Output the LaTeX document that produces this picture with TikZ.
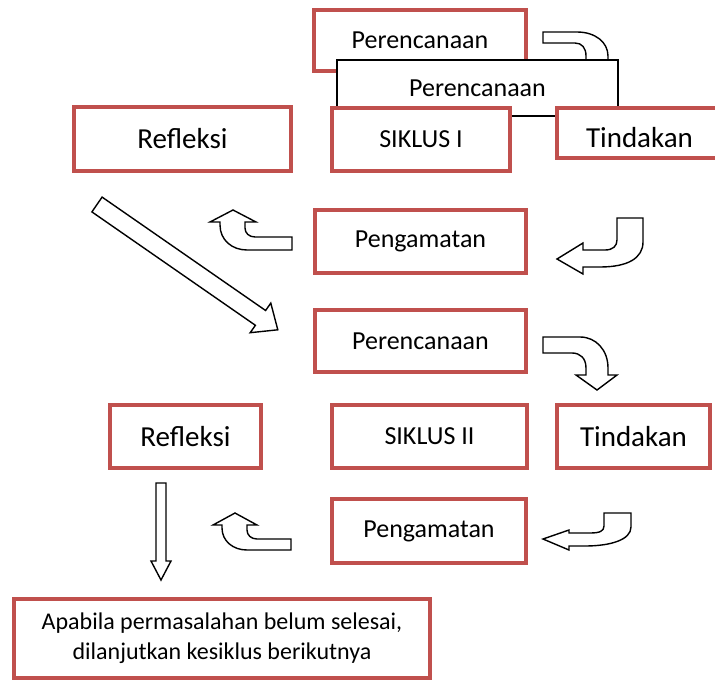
\documentclass[tikz,border=0pt]{standalone}
\usepackage{fontspec}
\setmainfont{Carlito}
\usepackage{tikz}
\definecolor{clrR}{RGB}{192,80,77}
\tikzset{
  stepbox/.style={rectangle,draw=clrR,line width=4.5pt,fill=white,inner sep=0pt,
    font=\fontsize{26}{31}\selectfont},
  stepbig/.style={stepbox,font=\fontsize{29}{34}\selectfont},
  plainbox/.style={rectangle,draw=black,line width=1.2pt,fill=white,inner sep=0pt,
    font=\fontsize{26}{31}\selectfont},
  notebox/.style={stepbox,align=center,font=\fontsize{24}{30}\selectfont},
  blockarrow/.style={draw=black,line width=1.4pt,fill=white,line join=miter}
}
\begin{document}
\begin{tikzpicture}[x=1pt,y=-1pt]
  \useasboundingbox (0,0) rectangle (715,680);
  \draw[blockarrow] (543,32) -- (577,32) .. controls (595,32) and (608,42) .. (608,56)
    -- (608,72) -- (586,72) -- (586,56) .. controls (586,48) and (582,43) .. (575,43)
    -- (543,43) -- cycle;
  \node[stepbox,minimum width=212pt,minimum height=61pt] (plan1) at (420,40.5) {Perencanaan};
  \node[plainbox,minimum width=281pt,minimum height=56pt] (plan1b) at (477.5,88) {Perencanaan};
  \node[stepbig,minimum width=217pt,minimum height=64pt] (refl1) at (182.5,139) {Refleksi};
  \node[stepbox,minimum width=178pt,minimum height=63pt] (cyc1) at (421,139.5) {SIKLUS I};
  \node[stepbig,minimum width=165pt,minimum height=50pt,text height=28pt,text depth=0pt]
    (act1) at (639.5,133) {Tindakan};
  \node[stepbox,minimum width=211pt,minimum height=63pt] (obs1) at (420.5,241.5) {Pengamatan};
  \node[stepbox,minimum width=211pt,minimum height=62pt] (plan2) at (420.5,341) {Perencanaan};
  \node[stepbig,minimum width=151pt,minimum height=63pt] (refl2) at (185.5,436.5) {Refleksi};
  \node[stepbox,minimum width=195pt,minimum height=63pt] (cyc2) at (429.5,436.5) {SIKLUS II};
  \node[stepbig,minimum width=153pt,minimum height=63pt] (act2) at (633.5,436.5) {Tindakan};
  \node[stepbox,minimum width=194pt,minimum height=64pt] (obs2) at (429,531) {Pengamatan};
  \node[notebox,minimum width=416pt,minimum height=79pt] (next) at (222,638.5)
    {Apabila permasalahan belum selesai,\\dilanjutkan kesiklus berikutnya};
  \draw[blockarrow] (102.1,197.1) -- (265.6,310.5) -- (270.8,303.1) -- (277.8,329.8)
    -- (250.2,332.7) -- (255.4,325.3) -- (91.9,211.9) -- cycle;
  \draw[blockarrow] (292,237) -- (255,237) .. controls (249,237) and (245,233) .. (245,228)
    -- (245,222) -- (256,222) -- (233,210) -- (210,222) -- (220,222) -- (220,225)
    .. controls (220,240) and (232,250) .. (247,250) -- (292,250) -- cycle;
  \draw[blockarrow] (617,218) -- (643,218) -- (643,242) .. controls (643,258) and (628,267) .. (600,267)
    -- (583,267) -- (583,274) -- (557,259) -- (583,243) -- (583,250) -- (605,250)
    .. controls (613,250) and (617,246) .. (617,240) -- cycle;
  \draw[blockarrow] (543,337) -- (580,337) .. controls (596,337) and (608,350) .. (608,368)
    -- (608,375) -- (617,375) -- (597,390) -- (576,375) -- (586,375) -- (586,368)
    .. controls (586,358) and (580,353) .. (572,353) -- (543,353) -- cycle;
  \draw[blockarrow] (156,483) -- (166,483) -- (166,561) -- (171,561) -- (161,580)
    -- (151,561) -- (156,561) -- cycle;
  \draw[blockarrow] (291,539) -- (257,539) .. controls (251,539) and (247,535) .. (247,530)
    -- (247,525) -- (257,525) -- (235,513) -- (213,525) -- (222,525) -- (222,528)
    .. controls (222,541) and (233,550) .. (247,550) -- (291,550) -- cycle;
  \draw[blockarrow] (604,513) -- (631,513) -- (631,527) .. controls (631,540) and (610,546) .. (585,546)
    -- (569,546) -- (569,550) -- (543,539) -- (569,530) -- (569,533) -- (590,533)
    .. controls (600,533) and (604,531) .. (604,526) -- cycle;
\end{tikzpicture}
\end{document}
